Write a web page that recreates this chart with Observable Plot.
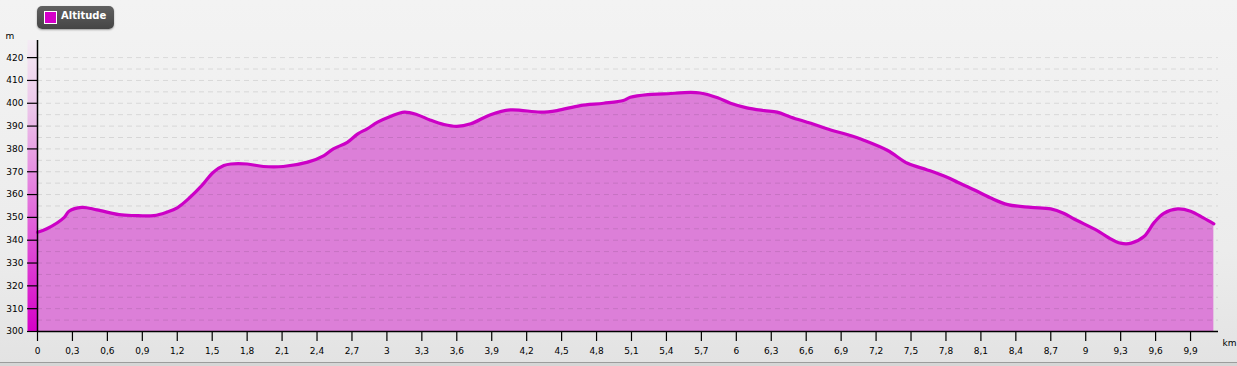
<!DOCTYPE html>
<html>
<head>
<meta charset="utf-8">
<script src="https://cdn.jsdelivr.net/npm/d3@7"></script>
<script src="https://cdn.jsdelivr.net/npm/@observablehq/plot@0.6"></script>
<style>
  html, body { margin: 0; padding: 0; }
  body { width: 1237px; height: 366px; overflow: hidden; font-family: "DejaVu Sans", sans-serif; }
  #wrap { position: relative; width: 1237px; height: 366px;
    background: linear-gradient(#f3f3f3 0px, #ececec 250px, #e3e3e3 362px, #d6d6d6 362px, #d6d6d6 366px); }
  #wrap svg { position: absolute; left: 0; top: 0; overflow: visible; }
  #bottomline { position: absolute; left: 0; top: 362px; width: 1237px; height: 1px; background: #9c9c9c; }
  #legend { position: absolute; left: 37px; top: 6px; width: 77px; height: 23px; border-radius: 5px;
    background: linear-gradient(#606060, #454545); box-shadow: 0 1px 2px rgba(0,0,0,0.35); z-index: 2; }
  #legend .sw { position: absolute; left: 7px; top: 5px; width: 11px; height: 11px; background: #d400c8; border: 1px solid #fff; }
  #legend .lb { position: absolute; left: 24px; top: 4px; color: #fff; font: bold 10px "DejaVu Sans", sans-serif; }
</style>
</head>
<body>
<div id="wrap">
  <div id="legend"><div class="sw"></div><div class="lb">Altitude</div></div>
  <div id="bottomline"></div>
</div>
<script>
// distance along the route (km)
const km = [0, 0.08, 0.23, 0.27, 0.38, 0.51, 0.70, 0.83, 1.00, 1.11, 1.20, 1.31, 1.41, 1.51, 1.60, 1.66,
  1.80, 1.94, 2.11, 2.32, 2.46, 2.54, 2.66, 2.75, 2.83, 2.92, 3.03, 3.15, 3.26, 3.37, 3.49, 3.60, 3.72,
  3.89, 4.06, 4.32, 4.46, 4.66, 4.86, 5.03, 5.09, 5.24, 5.38, 5.61, 5.69, 5.84, 5.95, 6.09, 6.24, 6.35,
  6.47, 6.64, 6.81, 6.95, 7.10, 7.30, 7.47, 7.64, 7.81, 7.90, 8.04, 8.18, 8.33, 8.53, 8.70, 8.81, 8.90,
  9.10, 9.19, 9.30, 9.39, 9.50, 9.59, 9.67, 9.79, 9.90, 10.01, 10.10];
// altitude (m)
const alt = [343.5, 345.0, 350.0, 352.7, 354.4, 353.3, 351.2, 350.8, 350.8, 352.3, 354.2, 358.8, 363.9, 369.8, 372.7, 373.4,
  373.4, 372.3, 372.3, 374.2, 377.1, 380.0, 382.9, 386.6, 388.8, 391.7, 394.2, 396.1, 395.0, 392.7, 390.7, 389.9, 391.0,
  395.0, 397.1, 396.1, 396.8, 399.0, 400.0, 401.2, 402.6, 403.8, 404.1, 404.8, 404.5, 402.4, 400.0, 398.0, 396.8, 396.1,
  393.9, 391.2, 388.3, 386.3, 383.7, 379.3, 373.7, 370.8, 367.6, 365.4, 362.1, 358.6, 355.6, 354.4, 353.7, 351.8, 349.3,
  344.2, 341.3, 338.7, 338.7, 341.6, 347.9, 351.8, 353.7, 352.7, 349.8, 347.2];

const xTicks = [0, 0.3, 0.6, 0.9, 1.2, 1.5, 1.8, 2.1, 2.4, 2.7, 3, 3.3, 3.6, 3.9, 4.2, 4.5, 4.8, 5.1, 5.4, 5.7,
  6, 6.3, 6.6, 6.9, 7.2, 7.5, 7.8, 8.1, 8.4, 8.7, 9, 9.3, 9.6, 9.9];
const yTicks = [300, 310, 320, 330, 340, 350, 360, 370, 380, 390, 400, 410, 420];
const gridLines = [305, 310, 315, 320, 325, 330, 335, 340, 345, 350, 355, 360, 365, 370, 375, 380, 385,
  390, 395, 400, 405, 410, 415, 420];
const xDomain = [0, 10.14];
const yDomain = [300, 427.5];

const data = km.map((k, i) => ({km: k, alt: alt[i]}));
const fmt = d => String(d).replace(".", ",");

const plot = Plot.plot({
  width: 1237,
  height: 366,
  marginLeft: 37,
  marginRight: 19,
  marginTop: 40,
  marginBottom: 35,
  style: {background: "transparent", fontFamily: "DejaVu Sans, sans-serif", fontSize: "9px", color: "#000", overflow: "visible"},
  x: {domain: xDomain},
  y: {domain: yDomain},
  marks: [
    Plot.areaY(data, {x: "km", y1: yDomain[0], y2: "alt", fill: "#dc7fd8", curve: "catmull-rom"}),
    Plot.ruleY(gridLines, {stroke: "#000", strokeOpacity: 0.1, strokeDasharray: "5,4", strokeWidth: 1}),
    Plot.ruleX([0], {y1: yDomain[0], y2: yDomain[1], stroke: "url(#altGrad)", strokeWidth: 10, dx: -5}),
    Plot.lineY(data, {x: "km", y: "alt", stroke: "#cc00c6", strokeWidth: 3.2, curve: "catmull-rom", strokeLinejoin: "round"}),
    Plot.axisY({ticks: yTicks, tickSize: 10, tickPadding: 4, label: null, strokeWidth: 1.2}),
    Plot.axisX({ticks: xTicks, tickSize: 10, tickPadding: 6, tickFormat: fmt, label: null, strokeWidth: 1.2}),
    Plot.ruleX([0], {y1: yDomain[0], y2: yDomain[1], stroke: "#000", strokeWidth: 1.5}),
    Plot.ruleY([yDomain[0]], {stroke: "#000", strokeWidth: 1.5}),
    Plot.text(["m"], {frameAnchor: "top-left", text: d => d, dx: -32, dy: -8, textAnchor: "start", fontSize: 9}),
    Plot.text(["km"], {frameAnchor: "bottom-right", text: d => d, dx: 4, dy: 14, textAnchor: "start", fontSize: 9})
  ]
});

const ys = plot.scale("y");
const defs = d3.select(plot).insert("defs", ":first-child");
const grad = defs.append("linearGradient")
  .attr("id", "altGrad")
  .attr("gradientUnits", "userSpaceOnUse")
  .attr("x1", 0).attr("x2", 0)
  .attr("y1", ys.apply(yDomain[1])).attr("y2", ys.apply(yDomain[0]));
grad.append("stop").attr("offset", 0).attr("stop-color", "#f4ecf4");
grad.append("stop").attr("offset", 0.25).attr("stop-color", "#ebc3e9");
grad.append("stop").attr("offset", 1).attr("stop-color", "#d600c8");

document.getElementById("wrap").appendChild(plot);
</script>
</body>
</html>
